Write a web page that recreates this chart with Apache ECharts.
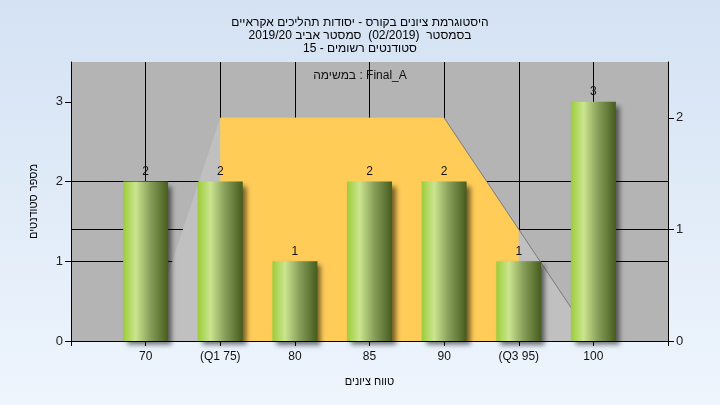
<!DOCTYPE html>
<html>
<head>
<meta charset="utf-8">
<script src="https://cdn.jsdelivr.net/npm/echarts@6/dist/echarts.min.js"></script>
<style>
html,body{margin:0;padding:0;width:720px;height:405px;overflow:hidden;
background:linear-gradient(to bottom,#d4e2f3,#eef5fd);}
#c{width:720px;height:405px;}
</style>
</head>
<body>
<div id="c"></div>
<script>
const categories = [70, 75, 80, 85, 90, 95, 100];
const tickLabels = ['70', '(Q1 75)', '80', '85', '90', '(Q3 95)', '100'];
const counts = [2, 2, 1, 2, 2, 1, 3];
const curve = [0, 2, 2, 2, 2, 1, 0];
const iqrCurve = [null, 2, 2, 2, 2, 1, null];
const titleLines = [
  'היסטוגרמת ציונים בקורס - יסודות תהליכים אקראיים',
  'בסמסטר  (02/2019)  סמסטר אביב 2019/20',
  'סטודנטים רשומים - 15'
];
const taskLabel = 'במשימה : Final_A';
const xName = 'טווח ציונים';
const yName = 'מספר סטודנטים';

const FONT = '"Liberation Sans", "DejaVu Sans", sans-serif';
const chart = echarts.init(document.getElementById('c'), null, {renderer: 'canvas'});

const barData = categories.map((c, i) => [c, counts[i]]);
const curveData = categories.map((c, i) => [c, curve[i]]);
const iqrData = categories.map((c, i) => iqrCurve[i] === null ? null : [c, iqrCurve[i]]).filter(d => d);
const edgeData = categories.map((c, i) => [c, curve[i]]).slice(4);

const barGrad = new echarts.graphic.LinearGradient(0, 0, 1, 0, [
  {offset: 0, color: '#9ccc3a'},
  {offset: 0.28, color: '#cbe58f'},
  {offset: 0.6, color: '#879f5a'},
  {offset: 1, color: '#465c1e'}
]);

chart.setOption({
  animation: false,
  textStyle: {fontFamily: FONT},
  title: {
    text: titleLines.join('\n'),
    left: 'center',
    top: 11,
    textStyle: {fontSize: 12, fontWeight: 'normal', color: '#000', lineHeight: 13, fontFamily: FONT}
  },
  graphic: [{
    type: 'text', left: 'center', top: 70, z: 100,
    style: {text: taskLabel, fontSize: 12, fill: '#111', font: '12px ' + FONT}
  }],
  grid: {left: 71, right: 52, top: 62, bottom: 64, show: true, backgroundColor: '#b4b4b4', borderWidth: 0},
  xAxis: {
    type: 'value', min: 65, max: 105, interval: 5,
    name: xName, nameLocation: 'middle', nameGap: 35,
    nameTextStyle: {fontSize: 11, color: '#000'},
    axisLine: {show: true, lineStyle: {color: '#000', width: 1}},
    axisTick: {show: true, length: 5, lineStyle: {color: '#000'}},
    axisLabel: {
      fontSize: 12, color: '#111', margin: 10,
      formatter: v => { const i = categories.indexOf(v); return i >= 0 ? tickLabels[i] : ''; }
    },
    splitLine: {show: true, showMinLine: false, showMaxLine: false, lineStyle: {color: '#000', width: 1}}
  },
  yAxis: [{
    type: 'value', min: 0, max: 3.5, interval: 1, position: 'left',
    name: yName, nameLocation: 'middle', nameGap: 32, nameRotate: 90,
    nameTextStyle: {fontSize: 11, color: '#000'},
    axisLine: {show: true, lineStyle: {color: '#000', width: 1}},
    axisTick: {show: true, length: 6, lineStyle: {color: '#000'}, customValues: [0, 1, 2, 3]},
    axisLabel: {fontSize: 13, color: '#222', margin: 8, customValues: [0, 1, 2, 3]},
    splitLine: {show: true, showMinLine: false, showMaxLine: false, lineStyle: {color: '#000', width: 1}}
  }, {
    type: 'value', min: 0, max: 2.5, interval: 1, position: 'right',
    axisLine: {show: true, lineStyle: {color: '#000', width: 1}},
    axisTick: {show: true, length: 6, lineStyle: {color: '#000'}, customValues: [0, 1, 2]},
    axisLabel: {fontSize: 13, color: '#222', margin: 8, customValues: [0, 1, 2]},
    splitLine: {show: true, showMinLine: false, showMaxLine: false, lineStyle: {color: '#000', width: 1}}
  }],
  series: [{
    type: 'line', yAxisIndex: 1, data: curveData, symbol: 'none', z: 1,
    lineStyle: {width: 0}, areaStyle: {color: '#c0c0c0', opacity: 1}, silent: true
  }, {
    type: 'line', yAxisIndex: 1, data: iqrData, symbol: 'none', z: 2,
    lineStyle: {width: 0}, areaStyle: {color: '#ffcc58', opacity: 1}, silent: true
  }, {
    type: 'line', yAxisIndex: 1, data: edgeData, symbol: 'none', z: 3,
    lineStyle: {width: 1, color: '#7a7a7a'}, silent: true
  }, {
    type: 'bar', yAxisIndex: 0, data: barData, barWidth: 45, z: 5,
    itemStyle: {color: barGrad, shadowColor: 'rgba(0,0,0,0.55)', shadowBlur: 5, shadowOffsetX: 4, shadowOffsetY: 4},
    label: {show: true, position: 'top', distance: 4, fontSize: 12, color: '#111'}
  }]
});
</script>
</body>
</html>
